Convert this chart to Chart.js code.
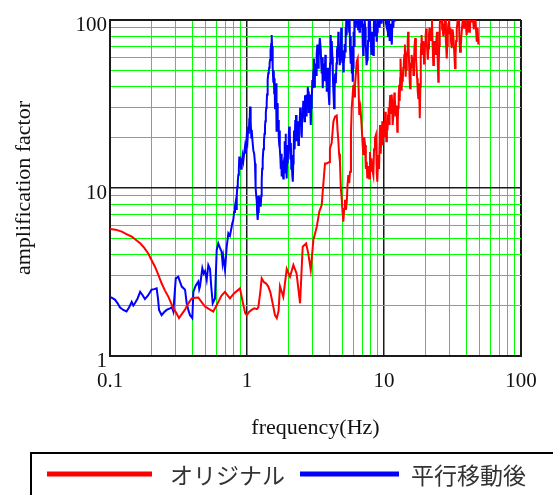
<!DOCTYPE html>
<html>
<head>
<meta charset="utf-8">
<script src="https://cdn.jsdelivr.net/npm/chart.js@4"></script>
<style>
  body { margin: 0; background: #fff; }
  #wrap { width: 553px; height: 495px; position: relative; }
</style>
</head>
<body>
<div id="wrap"><canvas id="ampChart"></canvas></div>
<script>
// series names (legend)
const seriesNames = ['オリジナル', '平行移動後'];

// original curve: frequency (Hz) / amplification factor
const redFreq = [0.1, 0.11, 0.122, 0.133, 0.144, 0.155, 0.166, 0.178, 0.19, 0.2, 0.213, 0.225, 0.238, 0.252, 0.267, 0.28, 0.29, 0.305, 0.319, 0.335, 0.352, 0.372, 0.395, 0.42, 0.441, 0.465, 0.494, 0.53, 0.567, 0.59, 0.618, 0.65, 0.691, 0.72, 0.751, 0.8, 0.85, 0.889, 0.93, 0.97, 0.995, 1.03, 1.08, 1.13, 1.18, 1.21, 1.25, 1.28, 1.33, 1.38, 1.43, 1.48, 1.55, 1.6, 1.65, 1.7, 1.74, 1.84, 1.95, 2.06, 2.18, 2.3, 2.44, 2.55, 2.7, 2.8, 2.92, 3.05, 3.23, 3.37, 3.51, 3.61, 3.71, 3.82, 3.99, 4.03, 4.15, 4.27, 4.39, 4.52,
    4.58, 4.64, 4.7, 4.77, 4.84, 4.91, 4.98, 5.05, 5.12, 5.19, 5.27, 5.35, 5.42, 5.49, 5.57, 5.65, 5.74, 5.81, 5.91, 5.97,
    6.05, 6.14, 6.23, 6.32, 6.43, 6.52, 6.6, 6.73, 6.86, 6.96, 7.06, 7.17, 7.27, 7.37, 7.48, 7.55, 7.68, 7.81, 7.9, 8.0,
    8.1, 8.2, 8.36, 8.46, 8.59, 8.73, 8.85, 8.93, 9.09, 9.2,
    9.35, 9.43, 9.5, 9.58, 9.65, 9.72, 9.78, 9.87, 9.95, 10.07, 10.2, 10.3, 10.4, 10.5, 10.6, 10.7, 10.8, 10.88, 10.95, 11.03,
    11.1, 11.2, 11.3, 11.38, 11.45, 11.52, 11.6, 11.7, 11.8, 11.9, 12.0, 12.12, 12.25, 12.38, 12.5, 12.6, 12.7, 12.8, 12.9, 12.98,
    13.05, 13.12, 13.2, 13.32, 13.45, 13.58, 13.7, 13.82, 13.95, 14.07, 14.2, 14.3, 14.4, 14.5, 14.6, 14.7, 14.8, 14.9, 15.0, 15.12,
    15.25, 15.38, 15.5, 15.6, 15.7, 15.8, 15.9, 16.02, 16.15, 16.28, 16.4, 16.55, 16.7, 16.9, 17.1, 17.28, 17.45, 17.62, 17.8, 17.92,
    18.05, 18.18, 18.3, 18.42, 18.55, 18.68, 18.8, 19.0, 19.2, 19.4, 19.6, 19.78, 19.95, 20.12, 20.3, 20.5, 20.7, 20.9, 21.1, 21.3,
    21.5, 21.7, 21.9, 22.15, 22.4, 22.65, 22.9, 23.15, 23.4, 23.65, 23.9, 24.15, 24.4, 24.65, 24.9, 25.1, 25.3, 25.45, 25.6, 25.8,
    26.0, 26.2, 26.4, 26.6, 26.8, 26.95, 27.1, 27.5, 27.9, 28.3, 28.7, 28.95, 29.2, 29.5, 29.8, 30.15, 30.5, 30.85, 31.2, 31.65,
    32.1, 32.55, 33.0, 33.3, 33.6, 33.95, 34.3, 34.7, 35.1, 35.5, 35.9, 36.4, 36.9, 37.4, 37.9, 38.45, 39.0, 39.55, 40.1, 40.65,
    41.2, 41.8, 42.4, 42.9, 43.4, 43.95, 44.5, 45.25, 46.0, 46.75, 47.5, 48.2, 48.8];
const redAmp = [5.7, 5.65, 5.5, 5.3, 5.13, 4.9, 4.69, 4.4, 4.08, 3.75, 3.4, 3.05, 2.71, 2.45, 2.25, 2.05, 1.92, 1.8, 1.68, 1.78, 1.88, 2.05, 2.2, 2.22, 2.23, 2.1, 1.97, 1.9, 1.84, 1.95, 2.1, 2.28, 2.41, 2.3, 2.2, 2.35, 2.45, 2.53, 2.1, 1.8, 1.75, 1.82, 1.88, 1.92, 1.9, 1.95, 2.4, 2.9, 2.75, 2.7, 2.59, 2.4, 2.0, 1.75, 1.68, 1.85, 2.6, 2.25, 3.3, 2.96, 3.48, 3.1, 2.06, 4.47, 4.68, 4.08, 3.25, 4.9, 5.88, 7.22, 7.92, 10.66, 14.0, 14.0, 14.3, 17.2, 18.5, 24.8, 26.6, 27,
    22, 19.3, 16, 14.3, 10, 8.7, 7.2, 6.3, 7.5, 8.5, 7.4, 8.3, 10.5, 11.95, 10.7, 12.5, 21, 29.8, 36, 41,
    35, 41, 48, 56.5, 59, 40, 27.2, 30, 23.7, 19, 15.7, 20, 18, 13, 14.3, 11.4, 13.5, 11.4, 16.4, 12.5,
    15, 13, 11.95, 17, 19.8, 20.7, 12.5, 10.9, 15.7, 13,
    23.7, 19, 16, 22, 20, 25, 18.0, 21, 24, 20, 28.4, 24, 19, 25, 22, 27, 30, 24, 26, 31,
    35.7, 30, 28, 36, 33, 27, 23.7, 27, 30, 37, 34.2, 29, 27, 31, 21.6, 25, 30, 35, 41.1, 36,
    33, 45, 59, 48, 38, 47, 42.9, 52, 55, 62, 71.4, 58, 46, 55, 50, 60, 65, 75, 85.1, 68,
    55, 45, 39.2, 44, 48, 55, 62, 58, 52, 60, 47, 55, 70, 78, 60, 52, 45, 38, 34.2, 40,
    42, 33, 26, 40, 60, 72, 81.3, 70, 62, 75, 55, 64, 72, 80, 89, 75, 65, 58, 67.9, 82,
    90, 80, 75, 88, 100, 70, 53.9, 62, 75, 68, 62, 78, 85, 60, 42.9, 55, 70, 82, 93, 108,
    120, 98, 110, 88, 95, 86, 80, 92, 105, 75, 59, 70, 85, 95, 106, 82, 90, 75, 67.9, 88,
    80, 65, 51.6, 62, 75, 88, 95, 108, 120, 80, 64.8, 72, 85, 96, 104, 90, 115, 95, 81.3, 92,
    100, 85, 90, 110, 120, 98, 105, 88, 125, 95, 74.2, 90, 71.4];

// shifted curve
const blueFreq = [0.1, 0.105, 0.109, 0.114, 0.118, 0.125, 0.132, 0.138, 0.144, 0.148, 0.152, 0.159, 0.166, 0.173, 0.18, 0.19, 0.201, 0.21, 0.219, 0.224, 0.228, 0.238, 0.248, 0.259, 0.274, 0.283, 0.29, 0.302, 0.315, 0.325, 0.334, 0.353, 0.363, 0.375, 0.384, 0.399, 0.406, 0.422, 0.441, 0.448, 0.454, 0.472, 0.483, 0.494, 0.508, 0.522, 0.537, 0.548, 0.562, 0.584, 0.601, 0.617, 0.635, 0.653, 0.663, 0.671, 0.691, 0.711, 0.731, 0.751, 0.773, 0.781, 0.794, 0.805,
    0.817, 0.826, 0.835, 0.842, 0.85, 0.857, 0.865, 0.872, 0.879, 0.887, 0.895, 0.905, 0.915, 0.928, 0.94, 0.953, 0.967, 0.981, 0.995, 1.008,
    1.022, 1.031, 1.04, 1.046, 1.052, 1.06, 1.067, 1.075, 1.082, 1.097, 1.112, 1.128, 1.144, 1.152, 1.16, 1.168, 1.177, 1.187, 1.197, 1.206,
    1.215, 1.222, 1.23, 1.245, 1.259, 1.27, 1.28, 1.29, 1.302, 1.316, 1.33, 1.342, 1.353, 1.362, 1.372, 1.382, 1.392, 1.401, 1.41, 1.42,
    1.43, 1.441, 1.452, 1.462, 1.472, 1.481, 1.49, 1.502, 1.514, 1.524, 1.535, 1.545,
    1.556, 1.568, 1.58, 1.59, 1.601, 1.615, 1.629, 1.638, 1.648, 1.659, 1.67, 1.681, 1.692, 1.706, 1.72, 1.73, 1.741, 1.753, 1.765, 1.778,
    1.791, 1.803, 1.815, 1.828, 1.841, 1.855, 1.87, 1.885, 1.9, 1.912, 1.925, 1.936, 1.948, 1.962, 1.975, 1.988, 2.002, 2.016, 2.03, 2.045,
    2.06, 2.075, 2.09, 2.105, 2.12, 2.14, 2.16, 2.175, 2.19, 2.205, 2.22, 2.235, 2.25, 2.265, 2.28, 2.3, 2.33, 2.35, 2.37, 2.395,
    2.42, 2.445, 2.47, 2.49, 2.51, 2.53, 2.55, 2.575, 2.6, 2.625, 2.65, 2.675, 2.7, 2.725, 2.75, 2.775, 2.8, 2.825, 2.85, 2.885,
    2.92, 2.945, 2.97, 2.995, 3.02, 3.05, 3.08, 3.105, 3.13, 3.16, 3.19, 3.225, 3.26, 3.28, 3.3, 3.325, 3.35, 3.4, 3.45, 3.48,
    3.51, 3.54, 3.57, 3.6, 3.63, 3.665, 3.7, 3.73, 3.76, 3.79, 3.82, 3.86, 3.9, 3.945, 3.99, 4.035, 4.08, 4.11, 4.14, 4.17,
    4.2, 4.23, 4.26, 4.29, 4.32, 4.36, 4.4, 4.45, 4.5, 4.535, 4.57, 4.605, 4.64, 4.67, 4.7, 4.735, 4.77, 4.805, 4.84, 4.87,
    4.9, 4.935, 4.97, 5.01, 5.05, 5.085, 5.12, 5.16, 5.2, 5.235, 5.27, 5.305, 5.34, 5.38, 5.42, 5.46, 5.5, 5.535, 5.57, 5.61,
    5.65, 5.695, 5.74, 5.78, 5.82, 5.865, 5.91, 5.945, 5.98, 6.015, 6.05, 6.1, 6.17, 6.23, 6.3, 6.35, 6.4, 6.47, 6.55, 6.62,
    6.68, 6.74, 6.8, 6.85, 6.9, 6.94, 6.98, 7.02, 7.06, 7.1, 7.15, 7.22, 7.3, 7.35, 7.4, 7.44, 7.48, 7.54, 7.6, 7.65,
    7.7, 7.75, 7.8, 7.85, 7.9, 7.95, 8.0, 8.05, 8.1, 8.18, 8.25, 8.3, 8.36, 8.43, 8.5, 8.55, 8.6, 8.66, 8.72, 8.78,
    8.85, 8.92, 9.0, 9.1, 9.2, 9.3, 9.4, 9.5, 9.6, 9.75, 9.9, 10.05, 10.2, 10.35, 10.5, 10.6, 10.7, 10.85, 11.0, 11.1,
    11.2, 11.3, 11.4, 11.55, 11.7, 11.85, 12.0];
const blueAmp = [2.25, 2.2, 2.16, 2.05, 1.95, 1.88, 1.84, 1.95, 2.1, 2.0, 2.06, 2.2, 2.41, 2.3, 2.18, 2.3, 2.48, 2.5, 2.53, 2.2, 1.88, 1.75, 1.82, 1.88, 1.92, 1.95, 1.84, 2.9, 2.96, 2.75, 2.59, 2.48, 2.06, 1.85, 1.75, 1.68, 2.41, 2.62, 2.77, 2.5, 2.6, 3.33, 3.1, 3.2, 2.84, 3.48, 3.3, 2.6, 2.06, 2.2, 4.28, 4.68, 4.4, 4.17, 3.6, 3.9, 3.25, 4.47, 5.37, 5.2, 5.88, 6.16, 6.45, 7.2,
    7.74, 8.2, 7.5, 9, 10.2, 11, 12, 13, 15.4, 14, 15, 13, 14.0, 15.5, 14.5, 16, 17.6, 16, 20.2, 19,
    23.2, 21, 26, 25, 30.5, 28, 25, 20, 22.2, 19, 16.8, 16, 14.0, 12, 10, 9, 8.48, 7, 6.45, 7.2,
    7.5, 9, 8.48, 8.2, 7.74, 9, 11, 13, 14.6, 17, 19, 21, 23.2, 25, 28, 30, 32.0, 36, 40, 44,
    48.2, 50, 52, 55, 57.8, 62, 66, 72, 81.3, 70, 60, 52,
    42.9, 50, 36.6, 45, 29.8, 35, 42.0, 30, 21.6, 32, 28, 22, 25.4, 20, 18, 22, 17.2, 15, 13, 16,
    11.7, 13, 14.6, 12, 11.4, 13.5, 15, 19, 16.1, 21, 12.2, 14, 11.4, 15, 18, 14, 17.2, 20, 23.2, 19,
    21.6, 15, 18.5, 13, 15.7, 12, 10.9, 14, 16, 22, 20, 17, 25.4, 21, 27.2, 19, 21, 25, 18.0, 23,
    24, 30, 27.2, 21, 20, 28, 26, 33, 31, 25, 35.7, 30, 27, 36, 32, 40, 37.4, 28, 30, 36,
    23.7, 30, 33, 44, 39.2, 50, 59, 40, 45, 55, 47, 62, 71.4, 58, 52, 65, 60, 78, 67.9, 56,
    48, 60, 39.2, 47, 55, 44, 50, 62, 43, 50, 37.4, 52, 45, 36, 31.2, 55, 81.3, 70, 58, 75,
    60, 48, 40, 35, 29.8, 38, 48, 42, 55, 65, 70, 60, 85.1, 75, 62, 70, 53.9, 60, 68, 90,
    70, 62, 56, 66, 49.3, 55, 60, 72, 65, 90, 75, 100, 81.3, 105, 120, 95, 110, 95, 85, 100,
    67.9, 80, 55, 70, 48, 58, 42.9, 52, 60, 85, 70, 115, 110, 90, 130, 100, 120, 88, 105, 85,
    93, 120, 115, 90, 105, 95, 80, 70, 61.9, 68, 75, 100, 90, 72, 65, 58, 53.9, 58, 62, 75,
    80, 95, 110, 92, 105, 85, 75, 68, 62, 72, 85, 70, 62, 90, 120, 100, 90, 105, 80, 95,
    74.2, 85, 95, 120, 110, 90, 130, 105, 95, 110, 120, 100, 115, 95, 90, 100, 80, 110, 75, 95,
    85, 78, 71.4, 110, 90, 120, 97.9];

// axis decades and their labels
const xDecades = [0.1, 1, 10, 100];
const xTickLabels = ['0.1', '1', '10', '100'];
const yDecades = [1, 10, 100];
const yTickLabels = ['1', '10', '100'];

// 1..9 x each decade, for the grid
function gridValues(decades) {
    const vals = [];
    decades.forEach((d, i) => {
        if (i === decades.length - 1) {
            vals.push(d);
            return;
        }
        for (let k = 1; k <= 9; k++) vals.push(d * k);
    });
    return vals;
}

function decadeIndex(decades, v) {
    return decades.findIndex(d => Math.abs(d - v) < d * 1e-9);
}

function gridColor(decades) {
    return ctx => decadeIndex(decades, ctx.tick.value) >= 0 ? '#1a1a1a' : '#00ff00';
}

function gridWidth(decades) {
    return ctx => {
        const i = decadeIndex(decades, ctx.tick.value);
        if (i < 0) return 1;
        return (i === 0 || i === decades.length - 1) ? 2 : 1.5;
    };
}

const toPoints = (fs, as) => fs.map((f, i) => ({ x: f, y: as[i] }));

// legend drawn in a framed box under the axis title
const boxLegend = {
    id: 'boxLegend',
    afterDraw(chart) {
        const ctx = chart.ctx;
        ctx.save();
        ctx.strokeStyle = '#000';
        ctx.lineWidth = 2;
        ctx.strokeRect(31, 453, 560, 60);
        const slots = [
            { x0: 47, x1: 152, tx: 170 },
            { x0: 300, x1: 399, tx: 411 }
        ];
        ctx.font = '23px "Noto Sans CJK JP"';
        ctx.textBaseline = 'middle';
        chart.data.datasets.forEach((ds, i) => {
            const s = slots[i];
            ctx.strokeStyle = ds.borderColor;
            ctx.lineWidth = 5;
            ctx.beginPath();
            ctx.moveTo(s.x0, 474);
            ctx.lineTo(s.x1, 474);
            ctx.stroke();
            ctx.fillStyle = '#333';
            ctx.fillText(ds.label, s.tx, 475);
        });
        ctx.restore();
    }
};

const ampChart = document.getElementById('ampChart');

new Chart(ampChart, {
    type: 'line',
    data: {
        datasets: [
            {
                label: seriesNames[0],
                data: toPoints(redFreq, redAmp),
                borderColor: '#ff0000',
                backgroundColor: '#ff0000',
                borderWidth: 2,
                pointRadius: 0,
                tension: 0
            },
            {
                label: seriesNames[1],
                data: toPoints(blueFreq, blueAmp),
                borderColor: '#0000ff',
                backgroundColor: '#0000ff',
                borderWidth: 2,
                pointRadius: 0,
                tension: 0
            }
        ]
    },
    options: {
        responsive: true,
        maintainAspectRatio: false,
        animation: false,
        layout: {
            padding: { left: 0, top: 20, right: 32, bottom: 50 }
        },
        plugins: {
            legend: { display: false },
            tooltip: { enabled: false }
        },
        scales: {
            x: {
                type: 'logarithmic',
                min: 0.1,
                max: 100,
                afterBuildTicks: s => { s.ticks = gridValues(xDecades).map(v => ({ value: v })); },
                afterFit: s => { s.height = 89; },
                grid: {
                    color: gridColor(xDecades),
                    lineWidth: gridWidth(xDecades),
                    drawTicks: false
                },
                border: { display: true, color: '#1a1a1a', width: 2 },
                ticks: {
                    autoSkip: false,
                    maxRotation: 0,
                    padding: 13,
                    color: '#111',
                    font: { family: '"Liberation Serif"', size: 21 },
                    callback: v => {
                        const i = decadeIndex(xDecades, v);
                        return i >= 0 ? xTickLabels[i] : '';
                    }
                },
                title: {
                    display: true,
                    text: 'frequency(Hz)',
                    color: '#111',
                    font: { family: '"Liberation Serif"', size: 22 },
                    padding: { top: 0, bottom: 4 }
                }
            },
            y: {
                type: 'logarithmic',
                min: 1,
                max: 100,
                afterBuildTicks: s => { s.ticks = gridValues(yDecades).map(v => ({ value: v })); },
                afterFit: s => { s.width = 110; },
                grid: {
                    color: gridColor(yDecades),
                    lineWidth: gridWidth(yDecades),
                    drawTicks: false
                },
                border: { display: true, color: '#1a1a1a', width: 2 },
                ticks: {
                    autoSkip: false,
                    padding: 3,
                    labelOffset: 5,
                    color: '#111',
                    font: { family: '"Liberation Serif"', size: 21 },
                    callback: v => {
                        const i = decadeIndex(yDecades, v);
                        return i >= 0 ? yTickLabels[i] : '';
                    }
                },
                title: {
                    display: true,
                    text: 'amplification factor',
                    color: '#111',
                    font: { family: '"Liberation Serif"', size: 22 },
                    padding: { top: 11, bottom: 0 }
                }
            }
        }
    },
    plugins: [boxLegend]
});
</script>
</body>
</html>
